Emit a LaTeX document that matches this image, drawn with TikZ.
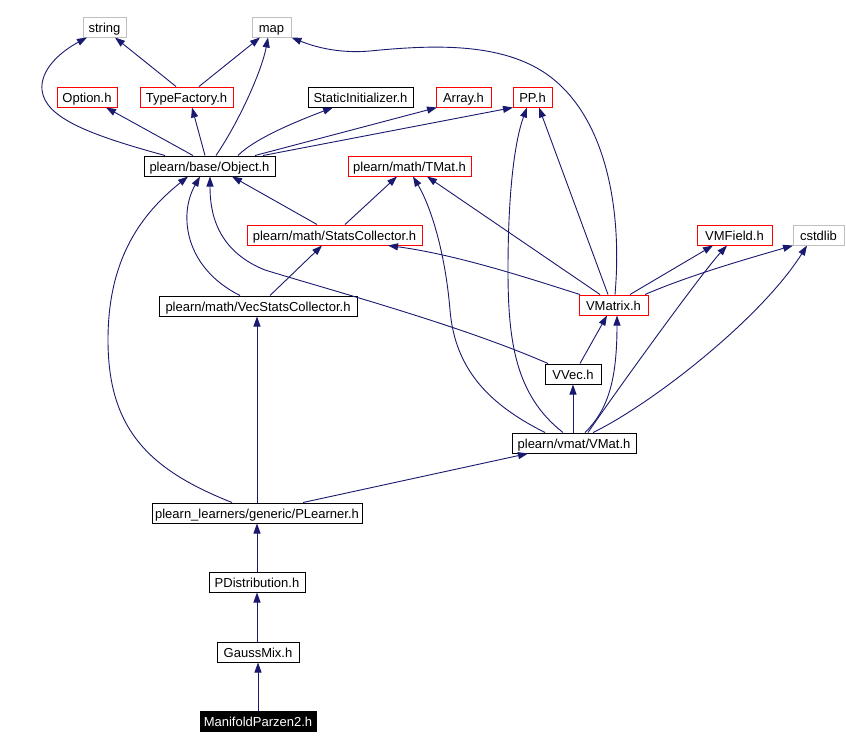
\documentclass[tikz,border=0pt]{standalone}
\usepackage{fontspec}
\setmainfont{Liberation Sans}
\usetikzlibrary{arrows.meta}
\definecolor{edgec}{RGB}{25,25,112}
\definecolor{grayb}{RGB}{191,191,191}
\begin{document}
\begin{tikzpicture}[x=1pt,y=-1pt,
  font=\fontsize{13}{15}\selectfont,
  hbox/.style={draw, line width=1pt, inner sep=0pt, minimum height=20pt, text height=12pt, text depth=2pt, fill=white},
  hb/.style={hbox, draw=black},
  hr/.style={hbox, draw=red},
  hg/.style={hbox, draw=grayb},
  hsel/.style={hbox, draw=black, fill=black, text=white},
  edge/.style={draw=edgec, line width=0.9pt, -{Triangle[length=10pt,width=7pt]}}]
\useasboundingbox (0,0) rectangle (846,748);
\fill[white] (0,0) rectangle (846,748);

% nodes
\node[hg, minimum width=43pt] (string) at (104.5,27) {string};
\node[hg, minimum width=39pt] (map) at (271.5,27) {map};
\node[hr, minimum width=60pt] (opt) at (87,97) {Option.h};
\node[hr, minimum width=93pt] (tf) at (186.5,97) {TypeFactory.h};
\node[hb, minimum width=105pt] (sinit) at (360.5,97) {StaticInitializer.h};
\node[hr, minimum width=55pt] (arr) at (463.5,97) {Array.h};
\node[hr, minimum width=39pt] (pp) at (532.5,97) {PP.h};
\node[hb, minimum width=131pt] (obj) at (209.5,166) {plearn/base/Object.h};
\node[hr, minimum width=123pt] (tmat) at (409.5,166) {plearn/math/TMat.h};
\node[hr, minimum width=175pt] (stc) at (334.5,235) {plearn/math/StatsCollector.h};
\node[hr, minimum width=75pt] (vmf) at (734.5,235) {VMField.h};
\node[hg, minimum width=51pt] (cst) at (818.5,235) {cstdlib};
\node[hb, minimum width=198pt] (vsc) at (258,306) {plearn/math/VecStatsCollector.h};
\node[hr, minimum width=69pt] (vmx) at (613.5,305) {VMatrix.h};
\node[hb, minimum width=56pt] (vvec) at (573,374) {VVec.h};
\node[hb, minimum width=124pt] (vmat) at (574,443) {plearn/vmat/VMat.h};
\node[hb, minimum width=210pt] (pl) at (257,513) {plearn\_learners/generic/PLearner.h};
\node[hb, minimum width=96pt] (pd) at (257,582) {PDistribution.h};
\node[hb, minimum width=82pt] (gm) at (258,652) {GaussMix.h};
\node[hsel, minimum width=116pt] (mp) at (258,721) {ManifoldParzen2.h};

% edges from Object.h
\draw[edge] ([xshift=-44.5pt]obj.north) .. controls (90,135) and (45,118) .. (42,90) .. controls (40,70) and (60,52) .. ([xshift=-17.5pt]string.south);
\draw[edge] ([xshift=6.5pt]obj.north) .. controls (240,120) and (262,70) .. ([xshift=-3.5pt]map.south);
\draw[edge] ([xshift=-16.5pt]obj.north) -- ([xshift=19pt]opt.south);
\draw[edge] ([xshift=-4.5pt]obj.north) -- ([xshift=5.5pt]tf.south);
\draw[edge] ([xshift=28.5pt]obj.north) .. controls (255,138) and (300,120) .. ([xshift=-27.5pt]sinit.south);
\draw[edge] ([xshift=45.5pt]obj.north) -- ([xshift=-26.5pt]arr.south);
\draw[edge] ([xshift=53.5pt]obj.north) -- ([xshift=-19.5pt]pp.south);

% TypeFactory
\draw[edge] ([xshift=-10.5pt]tf.north) -- ([xshift=10.5pt]string.south);
\draw[edge] ([xshift=12.5pt]tf.north) -- ([xshift=-11.5pt]map.south);

% VMatrix
\draw[edge] ([xshift=1.5pt]vmx.north) .. controls (622,215) and (608,130) .. (560,85) .. controls (515,42) and (440,44) .. (370,51) .. controls (335,54) and (310,45) .. (map.south east);
\draw[edge] ([xshift=-5.5pt]vmx.north) -- ([xshift=6.5pt]pp.south);
\draw[edge] ([xshift=-13.5pt]vmx.north) -- ([xshift=17.5pt]tmat.south);
\draw[edge] ([xshift=-33.5pt]vmx.north) .. controls (540,282) and (460,255) .. ([xshift=53.5pt]stc.south);
\draw[edge] ([xshift=16.5pt]vmx.north) -- ([xshift=-21.5pt]vmf.south);
\draw[edge] ([xshift=31.5pt]vmx.north) .. controls (690,275) and (750,258) .. ([xshift=-25.5pt]cst.south);

% VMat
\draw[edge] ([xshift=19pt]vmat.north) .. controls (650,405) and (760,320) .. ([xshift=-11.5pt]cst.south);
\draw[edge] ([xshift=14pt]vmat.north) .. controls (610,400) and (700,275) .. ([xshift=-7.5pt]vmf.south);
\draw[edge] ([xshift=11pt]vmat.north) .. controls (608,410) and (617,380) .. ([xshift=3.5pt]vmx.south);
\draw[edge] (vmat.north -| vvec.south) -- (vvec.south);
\draw[edge] ([xshift=-11pt]vmat.north) .. controls (515,395) and (508,340) .. (508,270) .. controls (508,190) and (515,140) .. ([xshift=-5.5pt]pp.south);
\draw[edge] ([xshift=-29pt]vmat.north) .. controls (490,405) and (455,370) .. (450,310) .. controls (445,250) and (430,205) .. ([xshift=3.5pt]tmat.south);

% VVec
\draw[edge] ([xshift=-25pt]vvec.north) .. controls (460,325) and (330,290) .. (265,270) .. controls (215,250) and (210,210) .. ([xshift=0.5pt]obj.south);
\draw[edge] ([xshift=7pt]vvec.north) -- ([xshift=-6.5pt]vmx.south);

% StatsCollector
\draw[edge] ([xshift=-17.5pt]stc.north) -- ([xshift=22.5pt]obj.south);
\draw[edge] ([xshift=10.5pt]stc.north) -- ([xshift=-12.5pt]tmat.south);

% VecStatsCollector
\draw[edge] ([xshift=12pt]vsc.north) -- ([xshift=-12.5pt]stc.south);
\draw[edge] ([xshift=-18pt]vsc.north) .. controls (185,268) and (178,215) .. ([xshift=-9.5pt]obj.south);

% PLearner
\draw[edge] ([xshift=-25pt]pl.north) .. controls (150,470) and (108,430) .. (108,340) .. controls (108,260) and (140,215) .. ([xshift=-21.5pt]obj.south);
\draw[edge] (pl.north) -- (pl.north |- vsc.south);
\draw[edge] ([xshift=46pt]pl.north) -- ([xshift=-46pt]vmat.south);

% chain
\draw[edge] (pd.north) -- (pl.south);
\draw[edge] (gm.north -| pd.south) -- (pd.south);
\draw[edge] (mp.north) -- (gm.south);
\end{tikzpicture}
\end{document}
